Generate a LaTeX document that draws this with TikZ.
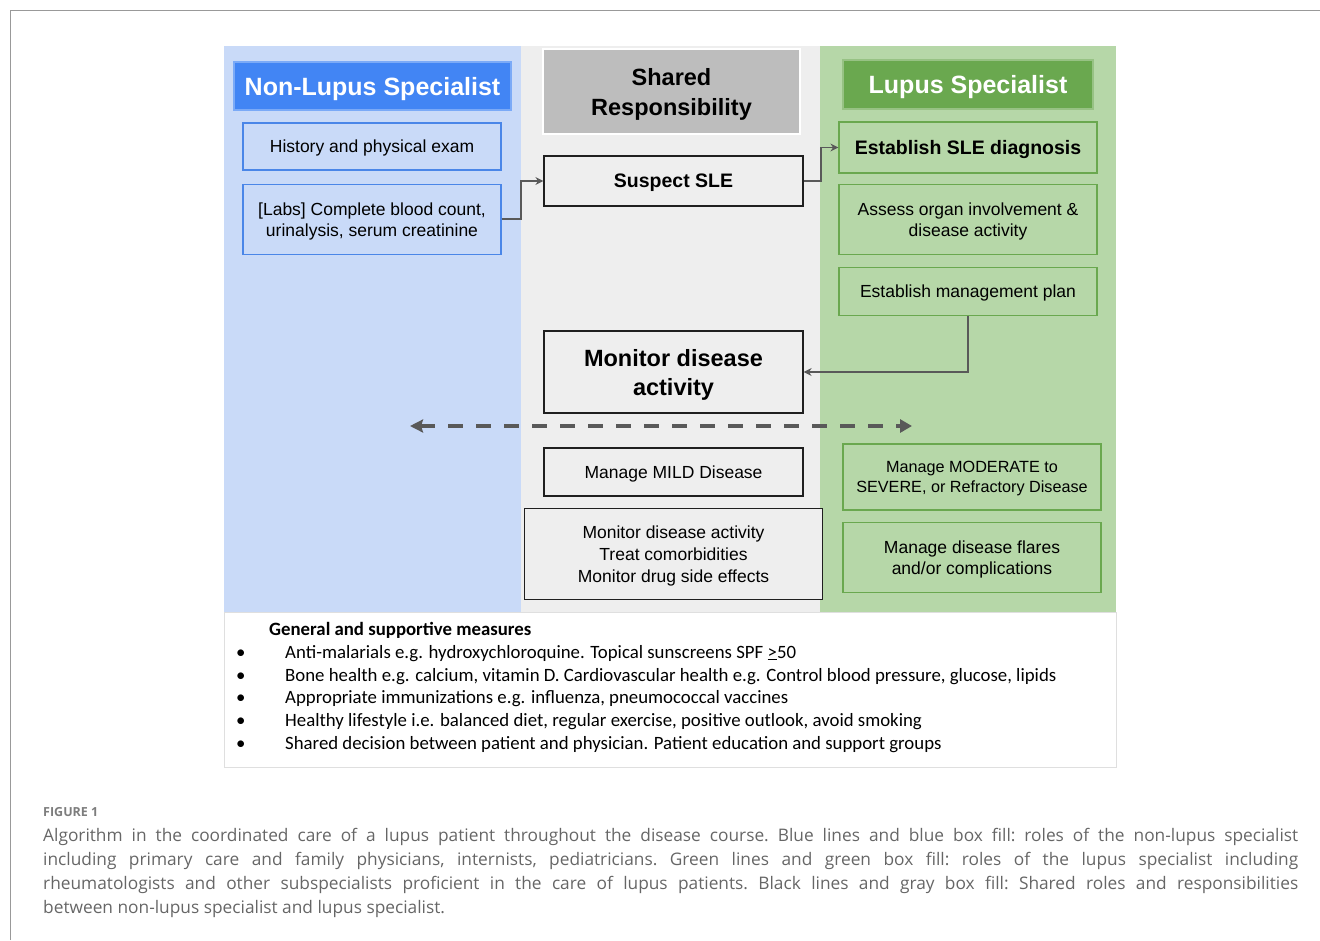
\documentclass[tikz,border=0pt]{standalone}
\usepackage{fontspec}
\setmainfont{Liberation Sans}
\newfontfamily\listfont{Carlito}
\newfontfamily\capfont{Open Sans}
\usetikzlibrary{positioning,arrows.meta}
\definecolor{nlfill}{HTML}{C9DAF8}
\definecolor{nlhead}{HTML}{4285F4}
\definecolor{nlline}{HTML}{4A86E8}
\definecolor{shfill}{HTML}{EEEEEE}
\definecolor{shhead}{HTML}{BDBDBD}
\definecolor{shline}{HTML}{1F1F1F}
\definecolor{lsfill}{HTML}{B6D7A8}
\definecolor{lshead}{HTML}{6AA84F}
\definecolor{lsline}{HTML}{6AA84F}
\definecolor{linkgray}{HTML}{595959}
\definecolor{capgray}{HTML}{666666}
\tikzset{
  cell/.style      = {draw, line width=1.2pt, align=center, inner sep=0pt, text depth=0pt,
                      minimum width=258pt, font=\fontsize{17.5}{21}\selectfont},
  cellblue/.style  = {cell, draw=nlline, fill=nlfill},
  cellgreen/.style = {cell, draw=lsline, fill=lsfill},
  cellgray/.style  = {cell, draw=shline, fill=shfill},
  header/.style    = {align=center, inner sep=0pt, text depth=0pt,
                      font=\bfseries\fontsize{25}{30}\selectfont},
  link/.style      = {-{Stealth[length=8pt,width=8pt]}, line width=1.8pt, draw=linkgray},
  twoway/.style    = {{Stealth[length=13pt,width=13pt,inset=2pt]}-{Triangle[length=12pt,width=13pt]},
                      line width=4.5pt, draw=linkgray, dash pattern=on 15pt off 13pt}
}
\begin{document}
\begin{tikzpicture}[x=1pt, y=-1pt]
        \useasboundingbox (0,0) rectangle (1320,940);
        \draw[gray!80, line width=1pt] (10,940) -- (10,10) -- (1320,10);

        % columns
        \fill[nlfill] (224,46) rectangle (520.5,612);
        \fill[shfill] (520.5,46) rectangle (819.5,612);
        \fill[lsfill] (819.5,46) rectangle (1116,612);
        \draw[gray!25, fill=white, line width=0.8pt] (224,612) rectangle (1116,767);

        % headers
        \node[header, fill=nlhead, draw=nlhead!70!white, line width=1.5pt, text=white,
              minimum width=277pt, minimum height=48pt] (hdrnl) at (372.5,86) {Non-Lupus Specialist};
        \node[header, fill=shhead, draw=white, line width=1.5pt, minimum width=257pt,
              minimum height=85pt, font=\bfseries\fontsize{23.5}{30}\selectfont] (hdrsh) at (671.5,91.5)
              {Shared\\ Responsibility};
        \node[header, fill=lshead, draw=lshead!70!white, line width=1.5pt, text=white,
              minimum width=250pt, minimum height=49pt] (hdrls) at (968,84.5) {Lupus Specialist};

        % non-lupus specialist
        \node[cellblue, minimum height=47pt] (hist) at (372,146.5) {History and physical exam};
        \node[cellblue, minimum height=70pt, below=13pt of hist] (labs)
              {[Labs] Complete blood count,\\ urinalysis, serum creatinine};

        % shared
        \node[cellgray, minimum width=259pt, minimum height=50pt,
              font=\bfseries\fontsize{19.5}{23}\selectfont] (suspect) at (673.5,181) {Suspect SLE};
        \node[cellgray, minimum width=259pt, minimum height=82pt,
              font=\bfseries\fontsize{23.5}{29}\selectfont] (monitor) at (673.5,372)
              {Monitor disease\\ activity};
        \node[cellgray, minimum width=259pt, minimum height=48pt] (mild) at (673.5,472) {Manage MILD Disease};
        \node[cellgray, minimum width=298pt, minimum height=91pt, below=11pt of mild,
              font=\fontsize{17.5}{22}\selectfont] (follow)
              {Monitor disease activity\\ Treat comorbidities\\ Monitor drug side effects};

        % lupus specialist
        \node[cellgreen, minimum height=51pt,
              font=\bfseries\fontsize{19.5}{23}\selectfont] (diag) at (968,147.5) {Establish SLE diagnosis};
        \node[cellgreen, minimum height=70pt, below=10pt of diag] (assess)
              {Assess organ involvement \&\\ disease activity};
        \node[cellgreen, minimum height=48pt, below=12pt of assess] (plan) {Establish management plan};
        \node[cellgreen, minimum height=66pt, font=\fontsize{16.2}{19.5}\selectfont] (moderate) at (972,477)
              {Manage MODERATE to\\ SEVERE, or Refractory Disease};
        \node[cellgreen, minimum height=70pt, below=11pt of moderate] (flares)
              {Manage disease flares\\ and/or complications};

        \draw[link] (labs.east) -- ++(19,0) |- (suspect.west);
        \draw[link] (suspect.east) -- ++(17,0) |- (diag.west);
        \draw[link] (plan.south) |- (monitor.east);

        \coordinate (dl) at (410,426);
        \coordinate (dr) at (912,426);
        \draw[twoway] (dl) -- (dr);

        % general measures
        \node[anchor=north west, align=left, inner sep=0pt,
              font=\listfont\fontsize{18.8}{22.8}\selectfont] (measures) at (236,622)
              {\hspace*{33pt}\textbf{General and supportive measures}\\
               \makebox[49pt][l]{\textbullet}Anti-malarials e.g. hydroxychloroquine. Topical sunscreens SPF \underline{>}50\\
               \makebox[49pt][l]{\textbullet}Bone health e.g. calcium, vitamin D. Cardiovascular health e.g. Control blood pressure, glucose, lipids\\
               \makebox[49pt][l]{\textbullet}Appropriate immunizations e.g. influenza, pneumococcal vaccines\\
               \makebox[49pt][l]{\textbullet}Healthy lifestyle i.e. balanced diet, regular exercise, positive outlook, avoid smoking\\
               \makebox[49pt][l]{\textbullet}Shared decision between patient and physician. Patient education and support groups};

        % caption
        \node[anchor=west, inner sep=0pt, text=capgray!85,
              font=\capfont\bfseries\fontsize{12.5}{15}\selectfont] (figlabel) at (43,812) {FIGURE 1};
        \node[anchor=north west, inner sep=0pt, text width=1255pt, align=justify, text=capgray,
              font=\capfont\fontsize{17.3}{24}\selectfont\frenchspacing] (caption) at (43,828)
              {Algorithm in the coordinated care of a lupus patient throughout the disease course. Blue lines and blue box fill: roles of the non-lupus specialist\linebreak
               including primary care and family physicians, internists, pediatricians. Green lines and green box fill: roles of the lupus specialist including\linebreak
               rheumatologists and other subspecialists proficient in the care of lupus patients. Black lines and gray box fill: Shared roles and responsibilities\linebreak
               between non-lupus specialist and lupus specialist.};
    \end{tikzpicture}
\end{document}
